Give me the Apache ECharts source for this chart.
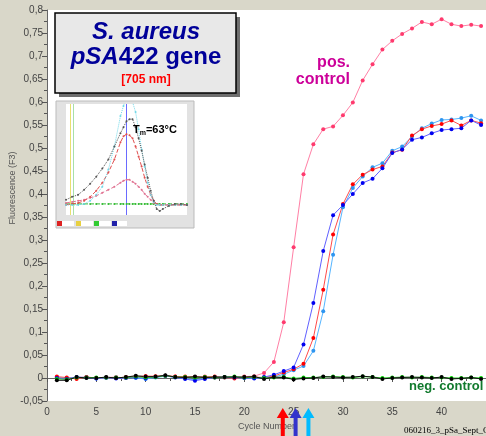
<!DOCTYPE html>
<html><head><meta charset="utf-8">
<script src="https://cdn.jsdelivr.net/npm/echarts/dist/echarts.min.js"></script>
<style>html,body{margin:0;padding:0;background:#D9D7C9}#c{width:486px;height:436px}</style>
</head><body><div id="c"></div>
<script>
// ---- main amplification data (cycle number vs fluorescence F3) ----
const cycles = [1,2,3,4,5,6,7,8,9,10,11,12,13,14,15,16,17,18,19,20,21,22,23,24,25,26,27,28,29,30,31,32,33,34,35,36,37,38,39,40,41,42,43,44];
const posControl = [0.002,-0.003,0.001,0.002,0,0.001,0.002,0,0.003,0.004,0.002,0.005,0.003,0.001,0.002,0.003,0.001,0.002,0.001,0.003,0.004,
  0.011,0.035,0.121,0.284,0.443,0.508,0.541,0.547,0.571,0.599,0.647,0.682,0.714,0.733,0.748,0.760,0.774,0.769,0.780,0.769,0.765,0.768,0.765];
const sampleBlue = [0,-0.002,0.002,0.001,-0.001,0.001,-0.001,0,0.001,-0.001,0.002,0.005,0.001,-0.002,-0.006,-0.002,0.001,0.002,0.001,0,-0.001,
  0.002,0.007,0.015,0.023,0.073,0.163,0.276,0.354,0.376,0.400,0.424,0.433,0.456,0.489,0.497,0.518,0.523,0.532,0.539,0.541,0.543,0.560,0.550];
const sampleRed = [0.003,0.001,-0.002,0.002,0,0.001,0,0.002,0.003,0.004,0.004,0.005,0.003,0.003,0.002,0.002,0.003,0.001,-0.001,0.002,0.002,
  0.001,0.004,0.012,0.019,0.031,0.087,0.192,0.312,0.378,0.421,0.442,0.453,0.460,0.490,0.496,0.527,0.541,0.548,0.552,0.560,0.549,0.560,0.554];
const sampleCyan = [0.001,0,0.001,0.001,-0.001,0,0.001,0.001,0,-0.002,0.001,0.004,0.002,-0.001,-0.004,-0.001,0.002,0.001,0,0.001,0,
  0.001,0.002,0.008,0.017,0.026,0.059,0.145,0.268,0.371,0.413,0.438,0.458,0.467,0.494,0.503,0.525,0.543,0.553,0.561,0.562,0.565,0.570,0.560];
const negBlack = [-0.005,-0.005,0.002,0,0,0.002,0,0.002,0.005,0.003,0.003,0.006,0.002,0.001,0.003,0.001,0.002,0.002,0.002,0.002,0.003,
  -0.002,0.002,0.001,-0.003,-0.001,0,0.003,0.002,0.001,0.002,0.004,0.002,-0.002,0,0.001,0.002,0.001,0,0.002,-0.002,-0.001,0.001,-0.002];
const negGreen = [-0.002,-0.003,0.001,0.001,0.001,0.001,0.001,0.001,0.003,0.001,0.002,0.005,0.002,0.002,0.001,0.002,0.001,0.002,0.003,0.001,0.002,
  0,0.001,0.002,-0.001,0.001,0.001,0.002,0.003,0.002,0.001,0.003,0.002,0,0.001,0.002,0.001,0.002,0.001,0.001,0,0,0.001,0];
// Ct arrows (cycle positions of the arrows under the axis)
const arrowCycles = [23.9, 25.2, 26.5];
const arrowColors = ['#FF0000', '#3333CC', '#00BBFF'];

// ---- inset melt-curve data (temperature vs -dF/dT) ----
const insetTemps = [43,45,47,49,51,53,55,57,59,61,62,63,64,65,66,67,68,69,70,71,72,73,74,75,77,79,81,83];
const meltBlack = [0.05,0.08,0.10,0.15,0.21,0.28,0.36,0.45,0.58,0.71,0.77,0.83,0.85,0.85,0.77,0.66,0.54,0.40,0.27,0.14,0.04,-0.04,-0.06,-0.04,-0.01,0.01,0.01,0];
const meltRed = [0,0.01,0.02,0.04,0.08,0.14,0.22,0.32,0.45,0.62,0.68,0.70,0.69,0.66,0.58,0.48,0.38,0.27,0.18,0.10,0.04,0.01,0,0,0,0,0,0];
const meltPink = [0.02,0.03,0.04,0.05,0.07,0.09,0.12,0.15,0.18,0.22,0.24,0.25,0.25,0.23,0.21,0.18,0.15,0.11,0.08,0.05,0.02,0.01,0,0,0,0,0,0];
const meltCyan = [0,0,0,0.01,0.04,0.10,0.18,0.35,0.58,0.88,0.98,1.08,1.10,1.02,0.92,0.75,0.55,0.38,0.22,0.10,0.03,0,0,0,0,0,0,0];
const meltGreen = [0.01,0.01,0.01,0.01,0.01,0.01,0.01,0.01,0.01,0.01,0.01,0.01,0.01,0.01,0.01,0.01,0.01,0.01,0.01,0.01,0.01,0.01,0.01,0.01,0.01,0.01,0.01,0.01];
const meltTm = 63;
const meltYRange = [-0.1, 1.0];

const pairs = (xs, ys) => xs.map((x, i) => [x, ys[i]]);
const FONT = 'Liberation Sans';

function mainSeries(name, data, lineColor, dotColor) {
  return {
    name, type: 'line', xAxisIndex: 0, yAxisIndex: 0,
    data: pairs(cycles, data),
    symbol: 'circle', symbolSize: 4,
    lineStyle: { width: 1, color: lineColor },
    itemStyle: { color: dotColor },
    emphasis: { disabled: true }, animation: false
  };
}
function meltSeries(name, data, color, dash) {
  return {
    name, type: 'line', xAxisIndex: 1, yAxisIndex: 1,
    data: pairs(insetTemps, data),
    symbol: 'circle', symbolSize: 2, showSymbol: true,
    lineStyle: { width: 1, color, type: dash },
    itemStyle: { color },
    emphasis: { disabled: true }, animation: false, z: 12, zlevel: 1
  };
}

const chart = echarts.init(document.getElementById('c'), null, { renderer: 'canvas' });
const fmt = v => String(Math.round(v * 100) / 100).replace('.', ',');

const option = {
  backgroundColor: '#D9D7C9',
  animation: false,
  grid: [
    { left: 47, right: 0, top: 10, bottom: 35, show: true, backgroundColor: '#FFFFFF', borderWidth: 0 },
    { left: 66, top: 104, width: 121, height: 111, show: true, backgroundColor: '#FFFFFF', borderWidth: 0, z: 11, zlevel: 1 }
  ],
  xAxis: [
    {
      type: 'value', gridIndex: 0, min: 0, max: 44.5, interval: 5,
      name: 'Cycle Number', nameLocation: 'middle', nameGap: 19,
      nameTextStyle: { fontFamily: FONT, fontSize: 9, color: '#555' },
      axisLine: { show: true, lineStyle: { color: '#666' } },
      axisTick: { show: true, length: 4, lineStyle: { color: '#555' } },
      minorTick: { show: true, splitNumber: 2, length: 3, lineStyle: { color: '#555' } },
      axisLabel: { fontFamily: FONT, fontSize: 10, color: '#444', margin: 6, showMaxLabel: false },
      splitLine: { show: false }
    },
    {
      type: 'value', gridIndex: 1, min: 43, max: 83, interval: 5,
      axisLine: { show: true, lineStyle: { color: '#aaa' } },
      axisTick: { show: true, length: 2, lineStyle: { color: '#aaa' } },
      axisLabel: { show: true, fontSize: 4, color: '#aaa', margin: 2 },
      splitLine: { show: false }
    }
  ],
  yAxis: [
    {
      type: 'value', gridIndex: 0, min: -0.05, max: 0.8, interval: 0.05,
      axisLine: { show: true, lineStyle: { color: '#666' } },
      axisTick: { show: true, length: 5, lineStyle: { color: '#555' } },
      minorTick: { show: true, splitNumber: 2, length: 3, lineStyle: { color: '#555' } },
      axisLabel: { fontFamily: FONT, fontSize: 10, color: '#444', margin: 4, formatter: fmt },
      splitLine: { show: false }
    },
    {
      type: 'value', gridIndex: 1, min: meltYRange[0], max: meltYRange[1], interval: 0.1,
      axisLine: { show: true, lineStyle: { color: '#aaa' } },
      axisTick: { show: true, length: 2, lineStyle: { color: '#aaa' } },
      axisLabel: { show: true, fontSize: 4, color: '#aaa', margin: 2 },
      splitLine: { show: false }
    }
  ],
  series: [
    mainSeries('pos. control', posControl, '#FF7FA5', '#FF3A6E'),
    mainSeries('sample 3', sampleCyan, '#55B5FF', '#2E95F0'),
    mainSeries('sample 2', sampleRed, '#FF4A4A', '#FF0000'),
    mainSeries('sample 1', sampleBlue, '#6060FF', '#0000F0'),
    mainSeries('neg. green', negGreen, '#22CC22', '#00DD00'),
    mainSeries('neg. control', negBlack, '#111111', '#000000'),
    {
      name: 'Tm', type: 'line', xAxisIndex: 1, yAxisIndex: 1,
      data: [[meltTm, meltYRange[0]], [meltTm, meltYRange[1]]],
      symbol: 'none', lineStyle: { width: 1, color: '#6A6AFF' },
      emphasis: { disabled: true }, animation: false, z: 12, zlevel: 1
    },
    meltSeries('melt green', meltGreen, '#33BB33', 'dashed'),
    meltSeries('melt pink', meltPink, '#E07090', 'dashed'),
    meltSeries('melt red', meltRed, '#E05050', 'dashed'),
    meltSeries('melt cyan', meltCyan, '#70D8E8', 'dotted'),
    meltSeries('melt black', meltBlack, '#555555', 'dotted')
  ]
};
chart.setOption(option);

// annotations
const graphics = [
  // title box shadow + box
  { type: 'rect', shape: { x: 59, y: 17, width: 181, height: 80 }, style: { fill: '#6E6E6E' }, z: 20 },
  { type: 'rect', shape: { x: 55, y: 13, width: 181, height: 80 }, style: { fill: '#E8E8E8', stroke: '#000', lineWidth: 1.5 }, z: 21 },
  { type: 'text', x: 146, y: 32, style: { text: 'S. aureus', fontFamily: FONT, fontSize: 24, fontWeight: 'bold', fontStyle: 'italic', fill: '#000099', align: 'center', verticalAlign: 'middle' }, z: 22 },
  { type: 'text', x: 146, y: 57, style: {
      text: '{i|pSA}{n|422 gene}', align: 'center', verticalAlign: 'middle',
      rich: {
        i: { fontFamily: FONT, fontSize: 24, fontWeight: 'bold', fontStyle: 'italic', fill: '#000099' },
        n: { fontFamily: FONT, fontSize: 24, fontWeight: 'bold', fill: '#000099' }
      } }, z: 22 },
  { type: 'text', x: 146, y: 80, style: { text: '[705 nm]', fontFamily: FONT, fontSize: 12, fontWeight: 'bold', fill: '#FF0000', align: 'center', verticalAlign: 'middle' }, z: 22 },
  // inset panel
  { type: 'rect', shape: { x: 56, y: 101, width: 138, height: 127 }, style: { fill: '#E2E2E2', stroke: '#BBBBBB', lineWidth: 1 }, z: 10, zlevel: 1 },
  { type: 'rect', shape: { x: 70, y: 104, width: 1, height: 111 }, style: { fill: '#E8E070' }, z: 12, zlevel: 1 },
  { type: 'rect', shape: { x: 73, y: 104, width: 1, height: 111 }, style: { fill: '#A8E0A8' }, z: 12, zlevel: 1 },
  { type: 'text', x: 133, y: 130, style: {
      text: '{t|T}{s|m}{t|=63°C}', verticalAlign: 'middle',
      rich: {
        t: { fontFamily: FONT, fontSize: 11, fontWeight: 'bold', fill: '#000' },
        s: { fontFamily: FONT, fontSize: 7, fontWeight: 'bold', fill: '#000', padding: [6, 0, 0, 0] }
      } }, z: 30, zlevel: 1 },
  // colour swatches under the inset
  { type: 'rect', shape: { x: 57, y: 221, width: 5, height: 5 }, style: { fill: '#DD2222' }, z: 30, zlevel: 1 },
  { type: 'rect', shape: { x: 62, y: 221, width: 12, height: 5 }, style: { fill: '#FFFFFF' }, z: 30, zlevel: 1 },
  { type: 'rect', shape: { x: 76, y: 221, width: 5, height: 5 }, style: { fill: '#E8D040' }, z: 30, zlevel: 1 },
  { type: 'rect', shape: { x: 81, y: 221, width: 12, height: 5 }, style: { fill: '#FFFFFF' }, z: 30, zlevel: 1 },
  { type: 'rect', shape: { x: 94, y: 221, width: 5, height: 5 }, style: { fill: '#33CC33' }, z: 30, zlevel: 1 },
  { type: 'rect', shape: { x: 99, y: 221, width: 12, height: 5 }, style: { fill: '#FFFFFF' }, z: 30, zlevel: 1 },
  { type: 'rect', shape: { x: 112, y: 221, width: 5, height: 5 }, style: { fill: '#2222AA' }, z: 30, zlevel: 1 },
  { type: 'rect', shape: { x: 117, y: 221, width: 10, height: 5 }, style: { fill: '#FFFFFF' }, z: 30, zlevel: 1 },
  // series labels
  { type: 'text', x: 350, y: 63, style: { text: 'pos.', fontFamily: FONT, fontSize: 16, fontWeight: 'bold', fill: '#CC0099', align: 'right', verticalAlign: 'middle' }, z: 22 },
  { type: 'text', x: 350, y: 80, style: { text: 'control', fontFamily: FONT, fontSize: 16, fontWeight: 'bold', fill: '#CC0099', align: 'right', verticalAlign: 'middle' }, z: 22 },
  { type: 'text', x: 409, y: 386, style: { text: 'neg. control', fontFamily: FONT, fontSize: 13, fontWeight: 'bold', fill: '#127A2E', align: 'left', verticalAlign: 'middle' }, z: 22 },
  // y axis title
  { type: 'text', x: 13, y: 188, rotation: Math.PI / 2, style: { text: 'Fluorescence (F3)', fontFamily: FONT, fontSize: 9, fill: '#555', align: 'center', verticalAlign: 'middle' }, z: 22 },
  // file name
  { type: 'text', x: 404, y: 431, style: { text: '060216_3_pSa_Sept_G.b', fontFamily: 'Liberation Serif', fontSize: 9, fill: '#000', align: 'left', verticalAlign: 'middle' }, z: 22 }
];
arrowCycles.forEach((c, i) => {
  const cx = chart.convertToPixel({ xAxisIndex: 0 }, c);
  graphics.push({
    type: 'polygon', z: 25,
    shape: { points: [[cx - 2, 436], [cx - 2, 418], [cx - 6, 418], [cx, 408], [cx + 6, 418], [cx + 2, 418], [cx + 2, 436]] },
    style: { fill: arrowColors[i] }
  });
});
chart.setOption({ graphic: graphics });
</script>
</body></html>
